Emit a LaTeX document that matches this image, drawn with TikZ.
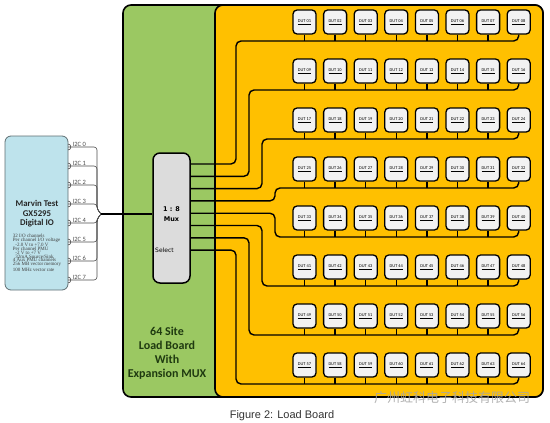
\documentclass[tikz,border=0pt]{standalone}
\usepackage{fontspec}
\setmainfont{Carlito}
\newfontfamily\captionfont{Liberation Sans}
\newfontfamily\muxfont{DejaVu Sans}
\newfontfamily\specfont{Liberation Serif}
\newfontfamily\cjkfont{Noto Sans CJK SC}
\usetikzlibrary{positioning,calc}
\definecolor{boardgreen}{HTML}{9BC862}
\definecolor{siteyellow}{HTML}{FFC000}
\definecolor{dutgray}{HTML}{F2F2F2}
\definecolor{muxgray}{HTML}{DCDCDC}
\definecolor{testerblue}{HTML}{BEE3EC}
\definecolor{testeredge}{HTML}{5E6E72}
\definecolor{boardtext}{HTML}{1F3A10}

\begin{document}
\begin{tikzpicture}[
    x=1pt, y=-1pt,
    board/.style={rectangle, draw, line width=1.6pt, rounded corners=8pt, fill=boardgreen, minimum width=420pt, minimum height=392pt},
    sites/.style={rectangle, draw, line width=1.6pt, rounded corners=8pt, fill=siteyellow, minimum width=328pt, minimum height=392pt},
    dut/.style={rectangle, draw, line width=1.3pt, rounded corners=4pt, fill=dutgray, minimum width=23pt, minimum height=24pt, inner sep=0pt, font=\fontsize{4.4}{5}\selectfont},
    mux/.style={rectangle, draw, line width=1.5pt, rounded corners=7pt, fill=muxgray, minimum width=37pt, minimum height=130pt},
    tester/.style={rectangle, draw=testeredge, line width=0.8pt, rounded corners=6pt, fill=testerblue, minimum width=63pt, minimum height=154pt},
    wire/.style={line width=1.4pt, rounded corners=5pt},
    bus/.style={line width=0.6pt, draw=black!70, rounded corners=3pt},
    pinlabel/.style={font=\fontsize{6.5}{7}\selectfont, text=black!70, inner sep=0.5pt, anchor=south west}
]
\useasboundingbox (0,0) rectangle (550,423);

% Load board
\node[board] (board) at (333,201) {};
\node[sites] (sites) at (379,201) {};
\node[font=\bfseries\fontsize{12}{14}\selectfont, text=boardtext, align=center] (title) at (167,353) {64 Site\\Load Board\\With\\Expansion MUX};

% Tester
\node[tester] (tester) at (36.5,213) {};
\node[font=\bfseries\fontsize{8.8}{9.5}\selectfont, align=center, text=black!85] (gx) at (37,214) {Marvin Test\\GX5295\\Digital IO};
\node[font=\specfont\fontsize{5}{3.8}\selectfont, align=left, inner sep=0pt, text=black!75, below=3pt of gx] (specs) {32 I/O channels\\Per channel I/O voltage\\\ \ -2.0 V to +7.0 V\\Per channel PMU\\\ \ -2 V to +7 V\\\ \ 32mA Source/Sink\\4 Aux PMU channels\\256 MB vector memory\\100 MHz vector rate};

% Mux
\node[mux] (mux) at (171.5,218) {};
\node[font=\muxfont\bfseries\fontsize{6.5}{10}\selectfont, align=center] (ratio) at (171.5,214) {1 : 8\\Mux};
\node[font=\muxfont\fontsize{6}{7}\selectfont, anchor=west, inner sep=1pt] (select) at (154,250) {Select};

% I2C channels
\coordinate (jct) at (101,214);
\foreach \i in {0,...,7} {
  \pgfmathsetmacro\yy{147+19*\i}
  \coordinate (p\i) at (68,\yy);
  \node[pinlabel] (l\i) at (72,\yy) {I2C \i};
  \draw[bus] (p\i) ++(0,-3) to[out=0,in=0,looseness=1.6] ++(0,6);
}
\foreach \i in {0,...,3} \draw[bus] (p\i) -| (97,209) -- (jct);
\foreach \i in {4,...,7} \draw[bus] (p\i) -| (97,219) -- (jct);
\draw[line width=1.5pt] (jct) -- (jct -| mux.west);

% DUT sites
\foreach \r in {0,...,7} {
  \foreach \c in {1,...,8} {
    \pgfmathtruncatemacro\dutno{8*\r+\c}
    \node[dut] (d\r-\c) at ({304.5+30.6*(\c-1)},{22+49*\r}) {\underline{DUT \ifnum\dutno<10 0\fi\dutno}};
  }
}

% Mux outputs to each row
\foreach \r/\tx in {0/236,1/249,2/262,3/275,4/275,5/262,6/249,7/236} {
  \coordinate (m\r) at (190,{164+12.3*\r});
  \coordinate (b\r) at (\tx,{41+49*\r});
  \draw[wire] (m\r) -| (b\r) -| (d\r-8.south);
  \foreach \c in {1,...,7} \draw[wire] (d\r-\c.south) -- (d\r-\c.south |- b\r);
}

% Caption
\node[font=\captionfont\fontsize{11}{13}\selectfont, text=black!80] (caption) at (282,416) {Figure 2: Load Board};
\node[font=\cjkfont\fontsize{13}{15}\selectfont, text=black!35, opacity=0.85] (mark) at (452,398) {广州虹科电子科技有限公司};
\end{tikzpicture}
\end{document}
